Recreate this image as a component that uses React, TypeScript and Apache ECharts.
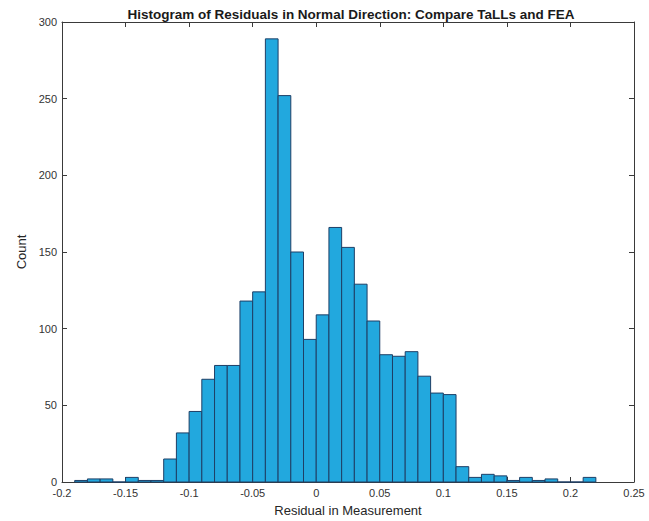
import React, { useEffect, useRef } from "react";
import * as echarts from "echarts";

const binLefts = [
  -0.19, -0.18, -0.17, -0.16, -0.15, -0.14, -0.13, -0.12, -0.11, -0.1,
  -0.09, -0.08, -0.07, -0.06, -0.05, -0.04, -0.03, -0.02, -0.01, 0.0,
  0.01, 0.02, 0.03, 0.04, 0.05, 0.06, 0.07, 0.08, 0.09, 0.1,
  0.11, 0.12, 0.13, 0.14, 0.15, 0.16, 0.17, 0.18, 0.19, 0.2, 0.21,
];
const counts = [
  1, 2, 2, 0, 3, 1, 1, 15, 32, 46,
  67, 76, 76, 118, 124, 289, 252, 150, 93, 109,
  166, 153, 129, 105, 83, 82, 85, 69, 58, 57,
  10, 3, 5, 4, 1, 3, 1, 2, 0, 0, 3,
];
const binWidth = 0.01;
const titleText = "Histogram of Residuals in Normal Direction: Compare TaLLs and FEA";
const xName = "Residual in Measurement";
const yName = "Count";

export default function App() {
  const ref = useRef<HTMLDivElement>(null);
  useEffect(() => {
    if (!ref.current) return;
    const chart = echarts.init(ref.current, null, { renderer: "svg" });
    const data = binLefts.map((l, i) => [l, l + binWidth, counts[i]]);
    const font = "'Liberation Sans', Arial, Helvetica, sans-serif";
    const axisColor = "#3a3a3a";
    const labelStyle = { color: "#333", fontSize: 11, fontFamily: font };
    const commonX = {
      type: "value" as const,
      min: -0.2,
      max: 0.25,
      interval: 0.05,
      splitLine: { show: false },
      axisLine: { show: true, onZero: false, lineStyle: { color: axisColor, width: 1 } },
      axisTick: { show: true, inside: true, length: 5, lineStyle: { color: axisColor } },
    };
    const commonY = {
      type: "value" as const,
      min: 0,
      max: 300,
      interval: 50,
      splitLine: { show: false },
      axisLine: { show: true, onZero: false, lineStyle: { color: axisColor, width: 1 } },
      axisTick: { show: true, inside: true, length: 5, lineStyle: { color: axisColor } },
    };
    chart.setOption({
      animation: false,
      backgroundColor: "#fff",
      title: {
        text: titleText,
        left: 346,
        top: 2,
        textAlign: "center",
        textStyle: { fontSize: 13.5, fontWeight: "bold", color: "#1a1a1a", fontFamily: font },
      },
      grid: { left: 62, right: 15, top: 22, bottom: 39, containLabel: false, outerBoundsMode: "none" },
      xAxis: [
        {
          ...commonX,
          position: "bottom",
          name: xName,
          nameLocation: "middle",
          nameGap: 22,
          nameTextStyle: { fontSize: 13, color: "#262626", fontFamily: font },
          axisLabel: {
            ...labelStyle,
            margin: 5,
            formatter: (v: number) => String(Math.round(v * 100) / 100),
          },
        },
        { ...commonX, position: "top", axisLabel: { show: false } },
      ],
      yAxis: [
        {
          ...commonY,
          position: "left",
          name: yName,
          nameLocation: "middle",
          nameGap: 31,
          nameRotate: 90,
          nameTextStyle: { fontSize: 13, color: "#262626", fontFamily: font },
          axisLabel: { ...labelStyle, margin: 5 },
        },
        { ...commonY, position: "right", axisLabel: { show: false } },
      ],
      series: [
        {
          type: "custom",
          xAxisIndex: 0,
          yAxisIndex: 0,
          data,
          encode: { x: [0, 1], y: 2 },
          renderItem: (params: any, api: any) => {
            const x0 = api.value(0);
            const x1 = api.value(1);
            const c = api.value(2);
            const p0 = api.coord([x0, c]);
            const p1 = api.coord([x1, 0]);
            return {
              type: "rect",
              shape: { x: p0[0], y: p0[1], width: p1[0] - p0[0], height: p1[1] - p0[1] },
              style: { fill: "#22a8de", stroke: "#1e3f66", lineWidth: 1 },
            };
          },
        },
      ],
    });
    return () => chart.dispose();
  }, []);
  return (
    <div
      ref={ref}
      style={{ position: "fixed", left: 0, top: 0, width: 649, height: 521 }}
    />
  );
}
